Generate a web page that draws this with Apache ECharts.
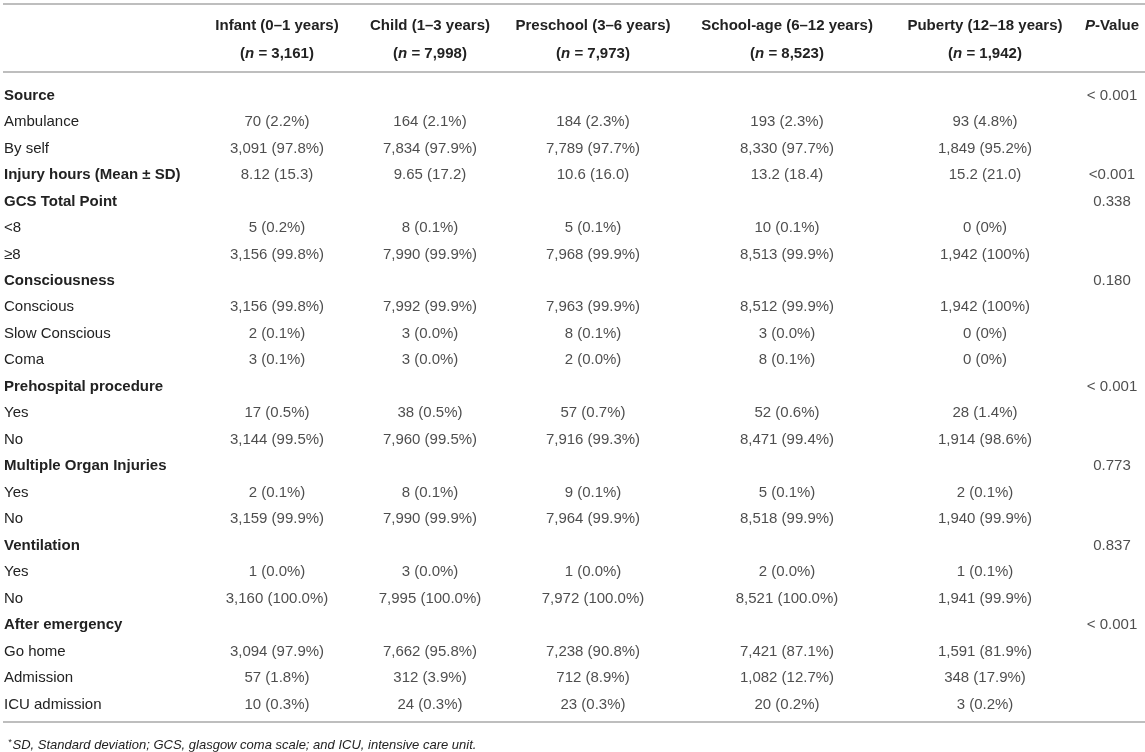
<!DOCTYPE html>
<html><head><meta charset="utf-8">
<script src="https://cdn.jsdelivr.net/npm/echarts@6/dist/echarts.min.js"></script>
<style>html,body{margin:0;padding:0;background:#fff}#c{width:1145px;height:752px}</style>
</head><body><div id="c"></div>
<script>
// ---- data ----
const groups = ['Infant (0–1 years)', 'Child (1–3 years)', 'Preschool (3–6 years)', 'School-age (6–12 years)', 'Puberty (12–18 years)'];
const groupN = ['3,161', '7,998', '7,973', '8,523', '1,942'];
const rowLabels = ['Source', 'Ambulance', 'By self', 'Injury hours (Mean ± SD)', 'GCS Total Point', '<8', '≥8',
  'Consciousness', 'Conscious', 'Slow Conscious', 'Coma', 'Prehospital procedure', 'Yes', 'No',
  'Multiple Organ Injuries', 'Yes', 'No', 'Ventilation', 'Yes', 'No', 'After emergency', 'Go home', 'Admission', 'ICU admission'];
const sectionRows = [0, 3, 4, 7, 11, 14, 17, 20];
const infant = ['', '70 (2.2%)', '3,091 (97.8%)', '8.12 (15.3)', '', '5 (0.2%)', '3,156 (99.8%)', '', '3,156 (99.8%)', '2 (0.1%)', '3 (0.1%)', '', '17 (0.5%)', '3,144 (99.5%)', '', '2 (0.1%)', '3,159 (99.9%)', '', '1 (0.0%)', '3,160 (100.0%)', '', '3,094 (97.9%)', '57 (1.8%)', '10 (0.3%)'];
const child = ['', '164 (2.1%)', '7,834 (97.9%)', '9.65 (17.2)', '', '8 (0.1%)', '7,990 (99.9%)', '', '7,992 (99.9%)', '3 (0.0%)', '3 (0.0%)', '', '38 (0.5%)', '7,960 (99.5%)', '', '8 (0.1%)', '7,990 (99.9%)', '', '3 (0.0%)', '7,995 (100.0%)', '', '7,662 (95.8%)', '312 (3.9%)', '24 (0.3%)'];
const preschool = ['', '184 (2.3%)', '7,789 (97.7%)', '10.6 (16.0)', '', '5 (0.1%)', '7,968 (99.9%)', '', '7,963 (99.9%)', '8 (0.1%)', '2 (0.0%)', '', '57 (0.7%)', '7,916 (99.3%)', '', '9 (0.1%)', '7,964 (99.9%)', '', '1 (0.0%)', '7,972 (100.0%)', '', '7,238 (90.8%)', '712 (8.9%)', '23 (0.3%)'];
const schoolAge = ['', '193 (2.3%)', '8,330 (97.7%)', '13.2 (18.4)', '', '10 (0.1%)', '8,513 (99.9%)', '', '8,512 (99.9%)', '3 (0.0%)', '8 (0.1%)', '', '52 (0.6%)', '8,471 (99.4%)', '', '5 (0.1%)', '8,518 (99.9%)', '', '2 (0.0%)', '8,521 (100.0%)', '', '7,421 (87.1%)', '1,082 (12.7%)', '20 (0.2%)'];
const puberty = ['', '93 (4.8%)', '1,849 (95.2%)', '15.2 (21.0)', '', '0 (0%)', '1,942 (100%)', '', '1,942 (100%)', '0 (0%)', '0 (0%)', '', '28 (1.4%)', '1,914 (98.6%)', '', '2 (0.1%)', '1,940 (99.9%)', '', '1 (0.1%)', '1,941 (99.9%)', '', '1,591 (81.9%)', '348 (17.9%)', '3 (0.2%)'];
const pValues = ['< 0.001', '', '', '<0.001', '0.338', '', '', '0.180', '', '', '', '< 0.001', '', '', '0.773', '', '', '0.837', '', '', '< 0.001', '', '', ''];
const pHeader = 'P-Value';
const footnote = 'SD, Standard deviation; GCS, glasgow coma scale; and ICU, intensive care unit.';

// ---- layout / style ----
const FONT = '"Liberation Sans", Arial, Helvetica, sans-serif';
const TXT = '#222';
const LINE = '#a9a9a9';
const colCenters = [277, 430, 593, 787, 985, 1112];
const colWidths = [150, 150, 150, 150, 150, 60];
const rowH = 26.48;
const gridTop = 95.5 - rowH / 2;
const gridH = rowH * rowLabels.length;
const columns = [infant, child, preschool, schoolAge, puberty, pValues];
const rowIds = rowLabels.map((_, i) => String(i));

const rich = {
  b: { fontFamily: FONT, fontSize: 15, fontWeight: 'bold', color: TXT, lineHeight: 28 },
  bi: { fontFamily: FONT, fontSize: 15, fontWeight: 'bold', fontStyle: 'italic', color: TXT, lineHeight: 28 },
  r: { fontFamily: FONT, fontSize: 15, fontWeight: 'normal', color: TXT }
};

const headers = groups.map((g, i) => `{b|${g}}\n{b|(}{bi|n}{b| = ${groupN[i]})}`)
  .concat([`{bi|${pHeader.charAt(0)}}{b|${pHeader.slice(1)}}`]);

const grid = [{ left: 4, top: gridTop, width: 10, height: gridH, outerBoundsMode: 'none', containLabel: false }];
const xAxis = [{ gridIndex: 0, type: 'value', min: 0, max: 1, show: false }];
const yAxis = [{
  gridIndex: 0, type: 'category', data: rowIds, inverse: true,
  axisLine: { show: false }, axisTick: { show: false }, splitLine: { show: false },
  axisLabel: {
    show: true, inside: true, margin: 0, interval: 0, align: 'left',
    formatter: (v, idx) => sectionRows.includes(idx) ? `{b|${rowLabels[idx]}}` : `{r|${rowLabels[idx]}}`,
    rich: rich
  }
}];
const series = [];

columns.forEach((col, c) => {
  const gi = c + 1;
  grid.push({ left: colCenters[c] - colWidths[c] / 2, top: gridTop, width: colWidths[c], height: gridH, outerBoundsMode: 'none', containLabel: false });
  xAxis.push({
    gridIndex: gi, type: 'category', position: 'top', data: [headers[c]],
    axisLine: { show: false }, axisTick: { show: false }, splitLine: { show: false },
    axisLabel: { show: true, interval: 0, margin: c === 5 ? 42.3 : 14.3, formatter: v => v, rich: rich }
  });
  yAxis.push({ gridIndex: gi, type: 'category', data: rowIds, inverse: true, show: false });
  series.push({
    type: 'scatter', xAxisIndex: gi, yAxisIndex: gi, silent: true,
    symbolSize: 1, itemStyle: { color: 'rgba(0,0,0,0)' },
    data: col.map((t, i) => t ? [0, i, t] : null).filter(d => d),
    label: {
      show: true, position: 'inside', formatter: p => p.data[2],
      fontFamily: FONT, fontSize: 15, fontWeight: 'normal', color: TXT
    },
    emphasis: { disabled: true }
  });
});

const chart = echarts.init(document.getElementById('c'), null, { renderer: 'canvas' });
chart.setOption({
  animation: false,
  backgroundColor: '#fff',
  title: {
    left: 3, top: 733,
    text: `{s|*}{t|${footnote}}`,
    textStyle: {
      fontWeight: 'normal',
      rich: {
        s: { fontFamily: FONT, fontSize: 9, fontStyle: 'italic', fontWeight: 'normal', color: TXT, padding: [0, 1, 5, 0] },
        t: { fontFamily: FONT, fontSize: 13, fontStyle: 'italic', fontWeight: 'normal', color: TXT }
      }
    }
  },
  grid, xAxis, yAxis, series,
  graphic: [
    { type: 'line', silent: true, shape: { x1: 3, y1: 4, x2: 1145, y2: 4 }, style: { stroke: LINE, lineWidth: 1.5 } },
    { type: 'line', silent: true, shape: { x1: 3, y1: 72, x2: 1145, y2: 72 }, style: { stroke: LINE, lineWidth: 1.5 } },
    { type: 'line', silent: true, shape: { x1: 3, y1: 722, x2: 1145, y2: 722 }, style: { stroke: LINE, lineWidth: 1.5 } }
  ]
});
</script>
</body></html>
